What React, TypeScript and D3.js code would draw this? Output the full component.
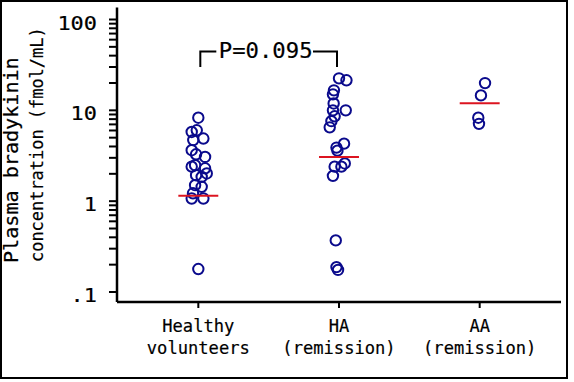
import React from "react";
import * as d3 from "d3";

const categories = ["Healthy volunteers", "HA (remission)", "AA (remission)"];
const categoryLabelLines = [
  ["Healthy", "volunteers"],
  ["HA", "(remission)"],
  ["AA", "(remission)"],
];
const healthyValues = [8.3, 6.03, 5.78, 4.89, 4.7, 3.64, 3.28, 3.07, 2.49, 2.4, 2.3, 2.02, 1.93, 1.85, 1.5, 1.44, 1.22, 1.07, 1.07, 0.179];
const healthyJitter = [0, -0.011, -0.047, 0.036, -0.036, -0.047, -0.016, 0.048, -0.023, -0.047, 0.048, 0.06, -0.016, 0.024, -0.023, 0.024, -0.038, -0.047, 0.036, 0];
const haValues = [22.5, 21.4, 16.6, 15.0, 11.9, 10.0, 10.0, 8.6, 7.6, 6.5, 4.3, 3.89, 3.6, 2.6, 2.4, 2.4, 1.9, 0.37, 0.188, 0.175];
const haJitter = [0, 0.053, -0.036, -0.043, -0.038, 0.048, -0.043, -0.031, -0.054, -0.066, 0.036, -0.018, -0.011, 0.041, 0.017, -0.031, -0.043, -0.023, -0.018, -0.007];
const aaValues = [19.95, 14.6, 8.3, 7.1];
const aaJitter = [0.038, 0.009, -0.01, -0.005];
const groupMedians = [1.15, 3.07, 12.0];
const yTickValues = [0.1, 1, 10, 100];
const yTickLabels = [".1", "1", "10", "100"];
const yTitleLines = ["Plasma bradykinin", "concentration (fmol/mL)"];
const pValueLabel = "P=0.095";
const pBracketValue = 30;

const W = 574;
const H = 382;
const FONT = "'DejaVu Sans Mono', monospace";
const NAVY = "#0a0a8c";
const RED = "#dc1420";

function MonoText(props: {
  text: string;
  x?: number;
  y?: number;
  size: number;
  cw: number;
  anchor?: "start" | "middle" | "end";
  transform?: string;
}) {
  const { text, x = 0, y = 0, size, cw, anchor = "start", transform } = props;
  return (
    <text
      x={x}
      y={y}
      transform={transform}
      textAnchor={anchor}
      fontSize={size}
      textLength={text.length * cw}
      lengthAdjust="spacingAndGlyphs"
      fill="#000"
      stroke="#000"
      strokeWidth={0.2}
    >
      {text}
    </text>
  );
}

export default function App() {
  const x = d3.scalePoint<string>().domain(categories).range([117, 561]).padding(0.578);
  const step = x.step();
  const y = d3.scaleLog().domain([0.1, 100]).range([292, 19.5]);
  const axisY = y(0.1) + 10;
  const axisTop = y(100) - 12;
  const axisLeft = x.range()[0];
  const axisRight = x.range()[1];
  const minorTicks = y.ticks();

  const groups = [
    { values: healthyValues, jitter: healthyJitter },
    { values: haValues, jitter: haJitter },
    { values: aaValues, jitter: aaJitter },
  ];

  const xL = (x(categories[0]) as number) + 2;
  const xR = (x(categories[1]) as number) - 2;
  const by = y(100) + 32;
  const byBottom = y(pBracketValue);
  const pMid = (xL + xR) / 2;

  return (
    <svg width={W} height={H} style={{ position: "absolute", left: 0, top: 0, background: "#fff" }} fontFamily={FONT}>
      <rect x={1} y={1} width={566} height={377} fill="none" stroke="#000" strokeWidth={2} />
      {/* y axis */}
      <line x1={axisLeft} x2={axisLeft} y1={axisTop} y2={axisY} stroke="#000" strokeWidth={2.5} />
      {minorTicks.map((t, i) => (
        <line key={i} x1={axisLeft - 8} x2={axisLeft} y1={y(t)} y2={y(t)} stroke="#000" strokeWidth={2} />
      ))}
      {yTickValues.map((t, i) => (
        <MonoText key={i} text={yTickLabels[i]} x={97} y={y(t) + 10} anchor="end" size={20} cw={13.2} />
      ))}
      {/* x axis */}
      <line x1={axisLeft} x2={axisRight} y1={axisY} y2={axisY} stroke="#000" strokeWidth={2.5} />
      {categories.map((c, i) => (
        <g key={c}>
          <line x1={x(c)} x2={x(c)} y1={axisY} y2={axisY + 6} stroke="#000" strokeWidth={2} />
          {categoryLabelLines[i].map((ln, j) => (
            <MonoText key={j} text={ln} x={x(c)} y={332 + j * 21.5} anchor="middle" size={18} cw={10.3} />
          ))}
        </g>
      ))}
      {/* y title */}
      <MonoText text={yTitleLines[0]} transform="translate(17.5,263) rotate(-90)" size={20} cw={12.1} />
      <MonoText text={yTitleLines[1]} transform="translate(43,262) rotate(-90)" size={18} cw={10.2} />
      {/* points */}
      {groups.map((g, gi) =>
        g.values.map((v, i) => (
          <circle
            key={gi + "-" + i}
            cx={(x(categories[gi]) as number) + g.jitter[i] * step}
            cy={y(v)}
            r={5.2}
            fill="none"
            stroke={NAVY}
            strokeWidth={2}
          />
        ))
      )}
      {/* medians */}
      {groupMedians.map((m, i) => (
        <line
          key={i}
          x1={(x(categories[i]) as number) - 0.142 * step}
          x2={(x(categories[i]) as number) + 0.142 * step}
          y1={y(m)}
          y2={y(m)}
          stroke={RED}
          strokeWidth={2}
        />
      ))}
      {/* p-value bracket */}
      <path d={`M${xL},${byBottom}V${by}H${xL + 16}`} fill="none" stroke="#000" strokeWidth={2} />
      <path d={`M${xR - 24},${by}H${xR}V${byBottom}`} fill="none" stroke="#000" strokeWidth={2} />
      <MonoText text={pValueLabel} x={pMid - 3} y={58} anchor="middle" size={21} cw={13.4} />
    </svg>
  );
}
